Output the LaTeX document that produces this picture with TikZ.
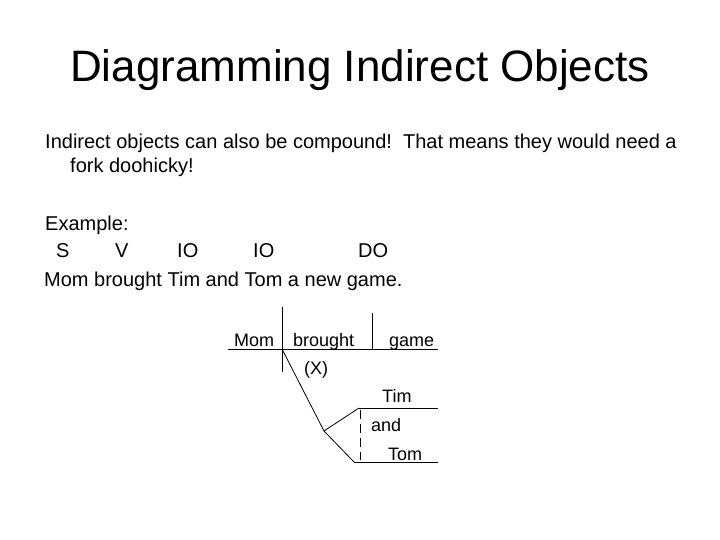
\documentclass[tikz,border=0pt]{standalone}
\usepackage{fontspec}
\setmainfont{Liberation Sans}
\usetikzlibrary{positioning}

\begin{document}
\begin{tikzpicture}[x=1pt,y=-1pt,
  body/.style={anchor=base west,inner sep=0pt,font=\fontsize{20}{24}\selectfont},
  word/.style={anchor=base west,inner sep=0pt,font=\fontsize{18}{22}\selectfont},
  every edge/.style={draw,line width=0.8pt}]
\useasboundingbox (0,0) rectangle (720,540);

\node[anchor=base,inner sep=0pt,font=\fontsize{44}{52}\selectfont] at (360,82) (title){Diagramming Indirect Objects};

\node[body] at (45,149) (line1){Indirect objects can also be compound!\ \ That means they would need a};
\node[body] at (70,173) (line2){fork doohicky!};
\node[body] at (45,230) (example){Example:};
\node[body] at (56,258) (s1){S};
\node[body] at (115,258) (v1){V};
\node[body] at (177,258) (io1){IO};
\node[body] at (253,258) (io2){IO};
\node[body] at (358,258) (do1){DO};
\node[body] at (44,286) (sentence){Mom brought Tim and Tom a new game.};

% the diagram
\node[word] at (234,346) (mom){Mom};
\node[word] at (293,346) (brought){brought};
\node[word] at (389,346) (game){game};
\node[word] at (304,374) (x1){(X)};
\node[word] at (382,402) (tim){Tim};
\node[word] at (371,431) (and1){and};
\node[word] at (388,460) (tom){Tom};

\coordinate (base1) at (228,349);
\coordinate (base2) at (438,349);
\coordinate (stop1) at (282,307);
\coordinate (stop2) at (282,372);
\coordinate (div1) at (372,313);
\coordinate (div2) at (372,349);
\coordinate (slant1) at (282,349);
\coordinate (fork1) at (324,431);
\coordinate (tine1) at (359,408);
\coordinate (tine1end) at (438,408);
\coordinate (tine2) at (354,462);
\coordinate (tine2end) at (438,462);
\coordinate (dash1) at (360,410);
\coordinate (dash2) at (360,460);

\path (base1) edge (base2);
\path (stop1) edge (stop2);
\path (div1) edge (div2);
\path (slant1) edge (fork1);
\path (fork1) edge (tine1)
  (tine1) edge (tine1end);
\path (fork1) edge (tine2)
  (tine2) edge (tine2end);
\path[dash pattern=on 9pt off 5pt] (dash1) edge (dash2);

\end{tikzpicture}
\end{document}
